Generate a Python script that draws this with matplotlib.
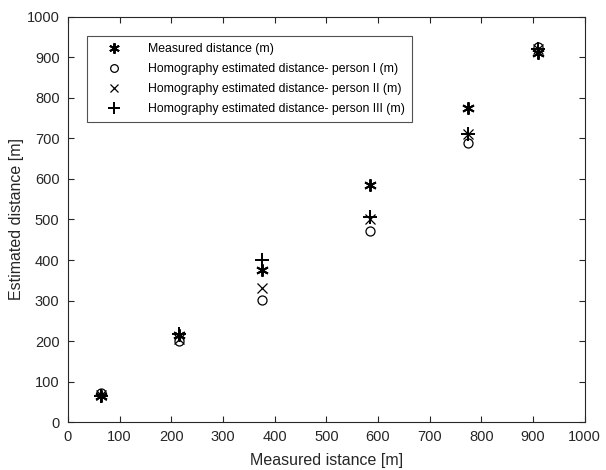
import numpy as np
import matplotlib
matplotlib.use('Agg')
import matplotlib.pyplot as plt

plt.rcParams['font.family'] = ['Liberation Sans', 'DejaVu Sans']

# datos
medida = [65, 215, 375, 585, 775, 910]
medida_y = [65, 215, 375, 585, 775, 910]
persona_1 = [72, 200, 302, 472, 690, 925]
persona_2 = [68, 205, 330, 500, 712, 920]
persona_3 = [65, 218, 400, 505, 712, 920]

fig = plt.figure(figsize=(6.06, 4.70), dpi=100)
ax = fig.add_axes([0.112, 0.102, 0.853, 0.862])

ax.plot(medida, medida_y, ls='none', marker=(6, 2, 0), color='k', markersize=9,
        markeredgewidth=1.4, label='Measured distance (m)')
ax.plot(medida, persona_1, ls='none', marker='o', mfc='none', mec='k', markersize=6.5,
        markeredgewidth=0.9, label='Homography estimated distance- person I (m)')
ax.plot(medida, persona_2, ls='none', marker='x', color='k', markersize=6.5,
        markeredgewidth=0.9, label='Homography estimated distance- person II (m)')
ax.plot(medida, persona_3, ls='none', marker='+', color='k', markersize=10,
        markeredgewidth=1.4, label='Homography estimated distance- person III (m)')

ax.set_xlim(0, 1000)
ax.set_ylim(0, 1000)
ax.set_xticks(np.arange(0, 1001, 100))
ax.set_yticks(np.arange(0, 1001, 100))
ax.tick_params(direction='in', top=True, right=True, length=4, width=0.8,
               labelsize=10.5, colors='#262626', pad=6)
for s in ax.spines.values():
    s.set_color('#262626')
    s.set_linewidth(0.8)
ax.set_xlabel('Measured istance [m]', fontsize=11.5, color='#262626', labelpad=6)
ax.set_ylabel('Estimated distance [m]', fontsize=11.5, color='#262626', labelpad=2)

leg = ax.legend(loc='upper left', fontsize=8.8, frameon=True, fancybox=False,
                edgecolor='#262626', borderaxespad=1.6, handletextpad=1.2,
                labelspacing=0.65, handlelength=3.2, borderpad=0.55,
                markerscale=0.85)
leg.get_frame().set_linewidth(0.8)

plt.savefig('out.png', dpi=100)
